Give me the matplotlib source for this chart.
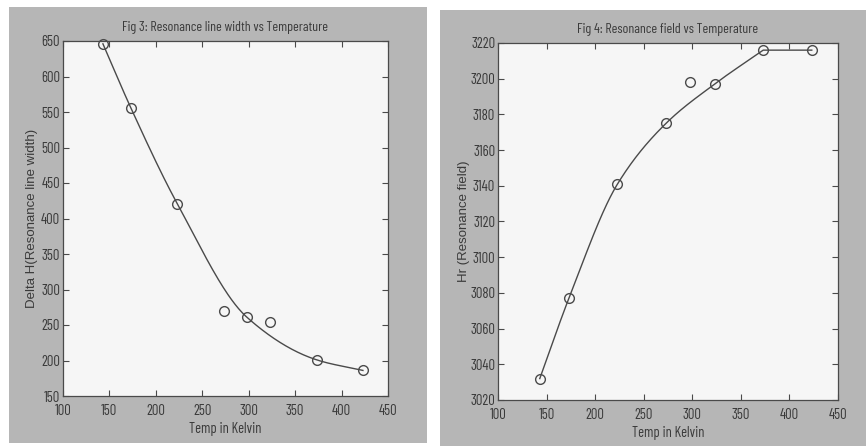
import numpy as np
import matplotlib
matplotlib.use("Agg")
import matplotlib.pyplot as plt
from matplotlib.patches import Rectangle

# Measurement temperatures (K)
temperature = [143, 173, 223, 273, 298, 323, 373, 423]

# Fig 3: resonance line width (Delta H)
line_width = [646, 556, 421, 270, 261, 254, 201, 186]
# points the smooth trend curve passes through
width_curve_idx = [0, 1, 2, 4, 6, 7]

# Fig 4: resonance field (Hr)
res_field = [3032, 3077, 3141, 3175, 3198, 3197, 3216, 3216]
field_curve_idx = [0, 1, 2, 3, 5, 6, 7]

x_ticks = [100, 150, 200, 250, 300, 350, 400, 450]
width_ticks = [150, 200, 250, 300, 350, 400, 450, 500, 550, 600, 650]
field_ticks = [3020, 3040, 3060, 3080, 3100, 3120, 3140, 3160, 3180, 3200, 3220]

FONT = ["Barlow Condensed", "Roboto Condensed", "DejaVu Sans"]
LABEL_FONT = ["Liberation Sans", "DejaVu Sans"]
TXT = "#3a3a3a"
LINE = "#4a4a4a"
PANEL = "#b6b6b6"


def hermite_curve(x, y, n=60):
    """Piecewise cubic Hermite through (x, y); shape preserving,
    with a corner where a segment is flat or the trend reverses."""
    x = np.asarray(x, float)
    y = np.asarray(y, float)
    h = np.diff(x)
    s = np.diff(y) / h
    m = len(s)
    dl = np.zeros(m)  # derivative at left end of each segment
    dr = np.zeros(m)  # derivative at right end of each segment
    for k in range(m):
        if k == 0:
            dl[k] = s[k]
        elif s[k - 1] * s[k] > 0:
            w1 = 2 * h[k] + h[k - 1]
            w2 = h[k] + 2 * h[k - 1]
            dl[k] = (w1 + w2) / (w1 / s[k - 1] + w2 / s[k])
        else:
            dl[k] = s[k]
        if k == m - 1:
            dr[k] = s[k]
        elif s[k] * s[k + 1] > 0:
            w1 = 2 * h[k + 1] + h[k]
            w2 = h[k + 1] + 2 * h[k]
            dr[k] = (w1 + w2) / (w1 / s[k] + w2 / s[k + 1])
        else:
            dr[k] = s[k]
    xs, ys = [], []
    for k in range(m):
        t = np.linspace(0, 1, n)
        h00 = 2 * t**3 - 3 * t**2 + 1
        h10 = t**3 - 2 * t**2 + t
        h01 = -2 * t**3 + 3 * t**2
        h11 = t**3 - t**2
        xs.append(x[k] + t * h[k])
        ys.append(h00 * y[k] + h10 * h[k] * dl[k] + h01 * y[k + 1] + h11 * h[k] * dr[k])
    return np.concatenate(xs), np.concatenate(ys)


fig = plt.figure(figsize=(8.66, 4.46), dpi=100, facecolor="white")

# grey figure panels behind each plot
W, H = 866.0, 446.0
for (px0, py0, px1, py1) in [(9, 7, 427, 443), (440, 10, 866, 446)]:
    fig.patches.append(Rectangle((px0 / W, 1 - py1 / H), (px1 - px0) / W, (py1 - py0) / H,
                                 transform=fig.transFigure, facecolor=PANEL,
                                 edgecolor="none", zorder=-5))


def px_axes(x0, y0, x1, y1):
    return fig.add_axes([x0 / W, 1 - y1 / H, (x1 - x0) / W, (y1 - y0) / H])


ax1 = px_axes(63, 41, 388, 396)
ax2 = px_axes(498, 43, 838, 400)


def style(ax, yticks, title, ylabel, ylabelpad):
    ax.set_facecolor("#f6f6f6")
    ax.set_xlim(100, 450)
    ax.set_ylim(yticks[0], yticks[-1])
    ax.set_xticks(x_ticks)
    ax.set_yticks(yticks)
    ax.tick_params(direction="in", top=True, right=True, length=4, width=0.8,
                   colors=LINE, labelcolor=TXT, labelsize=10.5)
    ax.tick_params(axis="x", pad=6)
    ax.tick_params(axis="y", pad=2)
    for lab in ax.get_xticklabels() + ax.get_yticklabels():
        lab.set_family(FONT)
    for sp in ax.spines.values():
        sp.set_color(LINE)
        sp.set_linewidth(0.9)
    ax.set_title(title, family=FONT, fontsize=10, color=TXT, pad=7)
    ax.set_xlabel("Temp in Kelvin", family=FONT, fontsize=10.5, color=TXT, labelpad=3)
    ax.set_ylabel(ylabel, family=LABEL_FONT, fontsize=9.5, color=TXT, labelpad=ylabelpad)


# Fig 3
t = np.asarray(temperature)
lw = np.asarray(line_width)
cx, cy = hermite_curve(t[width_curve_idx], lw[width_curve_idx])
ax1.plot(cx, cy, color=LINE, lw=1.0, zorder=2)
ax1.plot(t, lw, "o", mfc="none", mec=LINE, mew=1.0, ms=7, zorder=3, clip_on=False)
style(ax1, width_ticks, "Fig 3: Resonance line width vs Temperature",
      "Delta H(Resonance line width)", 2)

# Fig 4
rf = np.asarray(res_field)
cx, cy = hermite_curve(t[field_curve_idx], rf[field_curve_idx])
ax2.plot(cx, cy, color=LINE, lw=1.0, zorder=2)
ax2.plot(t, rf, "o", mfc="none", mec=LINE, mew=1.0, ms=7, zorder=3, clip_on=False)
style(ax2, field_ticks, "Fig 4: Resonance field vs Temperature", "Hr (Resonance field)", 0)

fig.savefig("out.png", dpi=100, facecolor="white")
